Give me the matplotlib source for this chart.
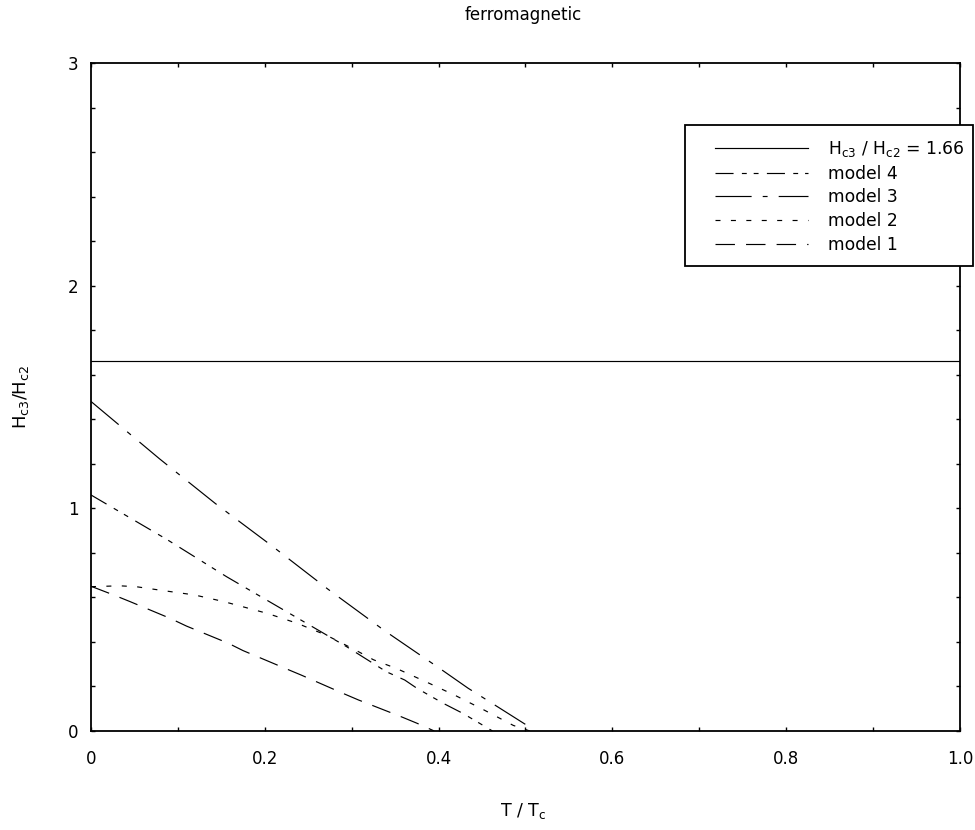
import matplotlib
matplotlib.use('Agg')
import matplotlib.pyplot as plt
from matplotlib.patches import Rectangle
from matplotlib.ticker import MultipleLocator, FuncFormatter

plt.rcParams['font.family'] = ['DejaVu Sans']
plt.rcParams['mathtext.default'] = 'regular'
plt.rcParams['lines.scale_dashes'] = False

# ratio Hc3/Hc2
ratio_const = 1.66

x_m1 = [0, 0.026, 0.045, 0.091, 0.110, 0.158, 0.175, 0.223, 0.242, 0.290, 0.308, 0.357, 0.375, 0.395]
y_m1 = [0.65, 0.611, 0.581, 0.506, 0.471, 0.394, 0.361, 0.282, 0.251, 0.169, 0.139, 0.064, 0.035, 0]

x_m2 = [0, 0.033, 0.052, 0.084, 0.119, 0.153, 0.186, 0.203, 0.237, 0.271, 0.306, 0.325, 0.352,
        0.386, 0.419, 0.451, 0.469, 0.486, 0.505]
y_m2 = [0.648, 0.652, 0.648, 0.630, 0.611, 0.581, 0.546, 0.528, 0.484, 0.43, 0.36, 0.32, 0.28,
        0.22, 0.16, 0.097, 0.06, 0.025, 0]

x_m3 = [0, 0.079, 0.143, 0.208, 0.273, 0.338, 0.405, 0.434, 0.469, 0.501, 0.509]
y_m3 = [1.48, 1.222, 1.022, 0.832, 0.636, 0.45, 0.271, 0.192, 0.106, 0.027, 0]

x_m4 = [0, 0.087, 0.156, 0.225, 0.294, 0.340, 0.361, 0.375, 0.392, 0.407, 0.428, 0.444, 0.462]
y_m4 = [1.06, 0.861, 0.693, 0.536, 0.379, 0.266, 0.229, 0.192, 0.154, 0.121, 0.079, 0.042, 0]

fig = plt.figure(figsize=(9.75, 8.3), dpi=100)
ax = fig.add_axes([0.0933, 0.1193, 0.8913, 0.8048])

lw = 0.85
ax.axhline(ratio_const, color='black', lw=lw, label=r'H$_{c3}$ / H$_{c2}$ = 1.66')
ax.plot(x_m4, y_m4, color='black', lw=lw, ls=(0, (13, 6, 3.5, 5, 3.5, 6)), label='model 4')
ax.plot(x_m3, y_m3, color='black', lw=lw, ls=(0, (26, 8, 3.5, 8)), label='model 3')
ax.plot(x_m2, y_m2, color='black', lw=lw, ls=(0, (3.6, 7.5)), label='model 2')
ax.plot(x_m1, y_m1, color='black', lw=lw, ls=(0, (14, 8)), label='model 1')

ax.set_xlim(0, 1.0)
ax.set_ylim(0, 3)
ax.xaxis.set_major_locator(MultipleLocator(0.2))
ax.xaxis.set_minor_locator(MultipleLocator(0.1))
ax.yaxis.set_major_locator(MultipleLocator(1))
ax.yaxis.set_minor_locator(MultipleLocator(0.2))
ax.xaxis.set_major_formatter(FuncFormatter(lambda v, p: '0' if abs(v) < 1e-9 else '%.1f' % v))
ax.tick_params(which='both', direction='in', top=True, right=True, width=1, length=3,
               labelsize=12, colors='black')
ax.tick_params(axis='x', pad=14)
ax.tick_params(axis='y', pad=9)
for s in ax.spines.values():
    s.set_linewidth(1.3)

ax.set_xlabel('T / T$_c$', fontsize=12.5)
ax.xaxis.set_label_coords(0.497, -0.105)
ax.set_ylabel('H$_{c3}$/H$_{c2}$', fontsize=13)
ax.yaxis.set_label_coords(-0.069, 0.5)
fig.text(0.537, 0.982, 'ferromagnetic', ha='center', va='center', fontsize=12)

# legend frame sits partly outside the axes, drawn separately
fig.patches.append(Rectangle((0.7026, 0.6795), 0.2954, 0.1699, transform=fig.transFigure,
                             facecolor='white', edgecolor='black', lw=1.3, zorder=3))
leg = fig.legend(loc='upper left', bbox_to_anchor=(0.7333, 0.8325), fontsize=12.3,
                 handlelength=5.45, handletextpad=1.17, labelspacing=0.33,
                 borderpad=0, borderaxespad=0, frameon=False)
leg.set_zorder(4)

plt.savefig('out.png', dpi=100)
